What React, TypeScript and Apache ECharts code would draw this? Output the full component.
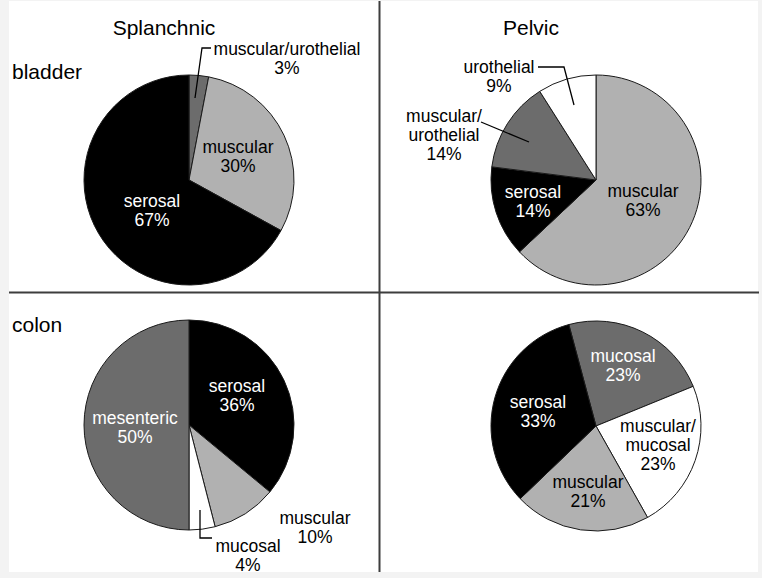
import React, { useEffect, useRef } from "react";
import * as echarts from "echarts";

// ---- data ----
const columnTitles = ["Splanchnic", "Pelvic"];
const rowTitles = ["bladder", "colon"];

const bladderSplanchnicCats = ["muscular/urothelial", "muscular", "serosal"];
const bladderSplanchnicVals = [3, 30, 67];

const bladderPelvicCats = ["muscular", "serosal", "muscular/urothelial", "urothelial"];
const bladderPelvicVals = [63, 14, 14, 9];

const colonSplanchnicCats = ["serosal", "muscular", "mucosal", "mesenteric"];
const colonSplanchnicVals = [36, 10, 4, 50];

const colonPelvicCats = ["mucosal", "muscular/mucosal", "muscular", "serosal"];
const colonPelvicVals = [23, 23, 21, 33];

// ---- styles / layout ----
const K = "#000000";
const D = "#6c6c6c";
const L = "#b1b1b1";
const W = "#ffffff";
const RADIUS = 105;
const FONT = "'Liberation Sans', Arial, sans-serif";

type LabelCfg = { dx: number; dy: number; color: string };
type PieCfg = {
  cats: string[];
  vals: number[];
  colors: string[];
  center: [number, number];
  startAngle: number;
  wrapSlash: boolean;
  labels: LabelCfg[];
  leaders: number[][][];
};

const pies: PieCfg[] = [
  {
    cats: bladderSplanchnicCats,
    vals: bladderSplanchnicVals,
    colors: [D, L, K],
    center: [189, 180],
    startAngle: 90,
    wrapSlash: false,
    labels: [
      { dx: 98, dy: -122, color: "#000" },
      { dx: 49, dy: -24, color: "#000" },
      { dx: -37, dy: 30, color: "#fff" },
    ],
    leaders: [[[195, 98], [202, 48], [211, 48]]],
  },
  {
    cats: bladderPelvicCats,
    vals: bladderPelvicVals,
    colors: [L, K, D, W],
    center: [596, 180],
    startAngle: 90,
    wrapSlash: true,
    labels: [
      { dx: 47, dy: 20, color: "#000" },
      { dx: -63, dy: 21, color: "#fff" },
      { dx: -152, dy: -45, color: "#000" },
      { dx: -97, dy: -104, color: "#000" },
    ],
    leaders: [
      [[538, 67], [564, 67], [574, 105]],
      [[481, 122], [529, 142]],
    ],
  },
  {
    cats: colonSplanchnicCats,
    vals: colonSplanchnicVals,
    colors: [K, L, W, D],
    center: [189, 425],
    startAngle: 90,
    wrapSlash: false,
    labels: [
      { dx: 48, dy: -30, color: "#fff" },
      { dx: 126, dy: 102, color: "#000" },
      { dx: 59, dy: 130, color: "#000" },
      { dx: -54, dy: 2, color: "#fff" },
    ],
    leaders: [[[200, 510], [200, 538], [212, 538]]],
  },
  {
    cats: colonPelvicCats,
    vals: colonPelvicVals,
    colors: [D, W, L, K],
    center: [596, 426],
    startAngle: 105,
    wrapSlash: true,
    labels: [
      { dx: 27, dy: -61, color: "#fff" },
      { dx: 62, dy: 19, color: "#000" },
      { dx: -8, dy: 65, color: "#000" },
      { dx: -58, dy: -15, color: "#fff" },
    ],
    leaders: [],
  },
];

export default function App() {
  const ref = useRef<HTMLDivElement>(null);

  useEffect(() => {
    if (!ref.current) return;
    const chart = echarts.init(ref.current, undefined, { renderer: "svg" });

    const series = pies.map((p) => ({
      type: "pie",
      center: p.center,
      radius: [0, RADIUS],
      startAngle: p.startAngle,
      clockwise: true,
      silent: true,
      z: 3,
      itemStyle: { borderColor: "#1a1a1a", borderWidth: 1 },
      label: {
        show: true,
        position: "inside",
        fontFamily: FONT,
        fontSize: 17.5,
        lineHeight: 19,
        align: "center",
        formatter: (prm: any) => {
          const name = p.wrapSlash ? String(prm.name).replace("/", "/\n") : prm.name;
          return name + "\n" + prm.value + "%";
        },
      },
      labelLine: { show: false },
      labelLayout: (params: any) => {
        const l = p.labels[params.dataIndex];
        if (!l) return {};
        return {
          x: p.center[0] + l.dx,
          y: p.center[1] + l.dy,
          align: "center",
          verticalAlign: "middle",
          hideOverlap: false,
        };
      },
      emphasis: { disabled: true },
      data: p.cats.map((c, i) => ({
        name: c,
        value: p.vals[i],
        itemStyle: { color: p.colors[i] },
        label: { color: p.labels[i].color },
      })),
    }));

    const graphics: any[] = [
      {
        type: "rect",
        shape: { x: 9, y: 1, width: 749, height: 571 },
        style: { fill: "#ffffff" },
        z: 0,
        silent: true,
      },
      {
        type: "line",
        shape: { x1: 379.5, y1: 1, x2: 379.5, y2: 572 },
        style: { stroke: "#3d3d3d", lineWidth: 2 },
        z: 1,
      },
      {
        type: "line",
        shape: { x1: 9, y1: 292.5, x2: 759, y2: 292.5 },
        style: { stroke: "#3d3d3d", lineWidth: 2 },
        z: 1,
      },
      {
        type: "text",
        x: 164,
        y: 27,
        style: {
          text: columnTitles[0],
          fontFamily: FONT,
          fontSize: 21,
          fill: "#000",
          align: "center",
          verticalAlign: "middle",
        },
        z: 5,
      },
      {
        type: "text",
        x: 531,
        y: 27,
        style: {
          text: columnTitles[1],
          fontFamily: FONT,
          fontSize: 21,
          fill: "#000",
          align: "center",
          verticalAlign: "middle",
        },
        z: 5,
      },
      {
        type: "text",
        x: 12,
        y: 71,
        style: {
          text: rowTitles[0],
          fontFamily: FONT,
          fontSize: 21,
          fill: "#000",
          align: "left",
          verticalAlign: "middle",
        },
        z: 5,
      },
      {
        type: "text",
        x: 12,
        y: 324,
        style: {
          text: rowTitles[1],
          fontFamily: FONT,
          fontSize: 21,
          fill: "#000",
          align: "left",
          verticalAlign: "middle",
        },
        z: 5,
      },
    ];

    pies.forEach((p) => {
      p.leaders.forEach((pts) => {
        graphics.push({
          type: "polyline",
          shape: { points: pts },
          style: { stroke: "#000", lineWidth: 1.3, fill: null },
          z: 10,
          silent: true,
        });
      });
    });

    chart.setOption({
      animation: false,
      backgroundColor: "#f3f3f3",
      graphic: { elements: graphics },
      series,
    } as any);

    return () => chart.dispose();
  }, []);

  return (
    <div
      ref={ref}
      style={{ position: "fixed", left: 0, top: 0, width: 762, height: 578 }}
    />
  );
}
